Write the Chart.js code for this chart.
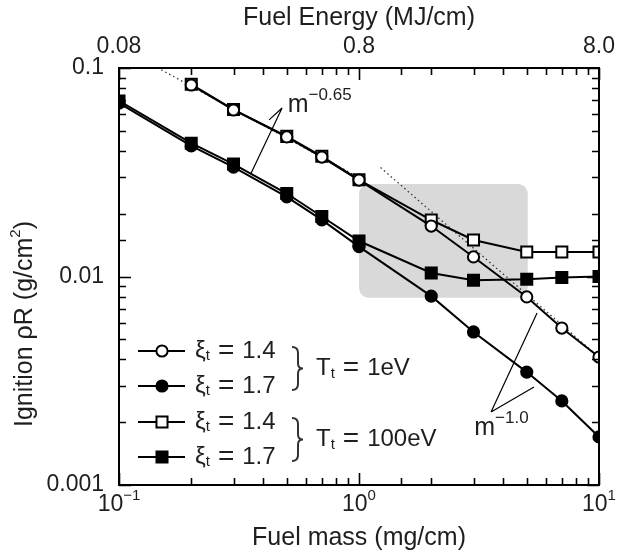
<!DOCTYPE html>
<html>
<head>
<meta charset="utf-8">
<script src="https://cdn.jsdelivr.net/npm/chart.js@4.4.0/dist/chart.umd.min.js"></script>
<style>
  html, body { margin: 0; padding: 0; background: #fff; }
</style>
</head>
<body>
<canvas id="chart" width="617" height="554"></canvas>
<script>
// fuel mass (mg/cm) and ignition rhoR (g/cm^2)
const fuelMass = [0.1, 0.2, 0.3, 0.5, 0.7, 1, 2, 3, 5, 7, 10];
const xi14Te1 = [null, 0.0829, 0.0629, 0.0467, 0.0374, 0.0290, 0.01746, 0.01241, 0.00798, 0.00566, 0.00411];
const xi17Te1 = [0.0679, 0.0423, 0.0335, 0.0241, 0.0187, 0.0139, 0.00805, 0.00542, 0.00348, 0.00253, 0.00170];
const xi14Te100 = [null, 0.0835, 0.0632, 0.0470, 0.0377, 0.0291, 0.01866, 0.01496, 0.01312, 0.0131, 0.0131];
const xi17Te100 = [0.0695, 0.0436, 0.0346, 0.0250, 0.0194, 0.0148, 0.0104, 0.0096, 0.0097, 0.0099, 0.0100];

// dotted power-law guides
const fit065Mass = [0.15, 1.0];
const fit065Value = [0.098, 0.0298];
const fit100Mass = [1.23, 10];
const fit100Value = [0.0333, 0.0041];

// axis ticks
const massDecades = [0.1, 1, 10];
const massExponents = ['\u22121', '0', '1'];
const energyTicks = [0.08, 0.8, 8];
const energyTickLabels = ['0.08', '0.8', '8.0'];
const rhoRDecades = [0.001, 0.01, 0.1];
const rhoRTickLabels = ['0.001', '0.01', '0.1'];

// legend text
const legendXi = ['1.4', '1.7', '1.4', '1.7'];
const legendTe = ['1eV', '100eV'];

// shaded region (data coords)
const boxMass = [1.0, 5.05];
const boxRhoR = [0.0079, 0.0278];

// slope annotations (data coords)
const slope065 = { text: [0.505, 0.0612], exp: '\u22120.65', apex: [0.478, 0.0643], ends: [[0.422, 0.0564], [0.355, 0.0313]] };
const slope100 = { text: [3.02, 0.00174], exp: '\u22121.0', apex: [3.55, 0.00224], ends: [[5.52, 0.00668], [5.36, 0.00295]] };

const FONT = '"Liberation Sans", Arial, sans-serif';
const TXT = '#1e1e1e';

const toPts = (xs, ys) => xs.map((x, i) => ({ x: x, y: ys[i] })).filter(p => p.y != null);
const near = (a, b) => Math.abs(Math.log10(a) - Math.log10(b)) < 1e-6;
const isDecade = v => Math.abs(Math.log10(v) - Math.round(Math.log10(v))) < 1e-6;

function series(label, values, style, fill) {
  return {
    label: label,
    data: toPts(fuelMass, values),
    borderColor: '#000',
    borderWidth: 2,
    pointStyle: style,
    pointRadius: style === 'rect' ? 7.8 : 5.6,
    pointBorderWidth: 2,
    pointBorderColor: '#000',
    pointBackgroundColor: fill,
    tension: 0,
    fill: false
  };
}

function guide(xs, ys) {
  return {
    data: toPts(xs, ys),
    borderColor: '#333',
    borderWidth: 1.3,
    borderDash: [1.5, 3],
    pointRadius: 0,
    fill: false
  };
}

function marker(ctx, ds, x, y) {
  ctx.save();
  ctx.lineWidth = 2;
  ctx.strokeStyle = '#000';
  ctx.fillStyle = ds.pointBackgroundColor;
  ctx.beginPath();
  if (ds.pointStyle === 'rect') {
    const h = ds.pointRadius * Math.SQRT1_2;
    ctx.rect(x - h, y - h, 2 * h, 2 * h);
  } else {
    ctx.arc(x, y, ds.pointRadius, 0, Math.PI * 2);
  }
  ctx.fill();
  ctx.stroke();
  ctx.restore();
}

// text made of pieces (sub/superscripts), returns end x
function richText(ctx, parts, x, y) {
  for (const p of parts) {
    ctx.font = (p.size || 23) + 'px ' + FONT;
    ctx.fillText(p.t, x, y + (p.dy || 0));
    x += ctx.measureText(p.t).width + (p.gap || 0);
  }
  return x;
}
function richWidth(ctx, parts) {
  let w = 0;
  for (const p of parts) {
    ctx.font = (p.size || 23) + 'px ' + FONT;
    w += ctx.measureText(p.t).width + (p.gap || 0);
  }
  return w;
}

function brace(ctx, x, yTop, yBot) {
  const ym = (yTop + yBot) / 2;
  const w = 6;
  ctx.beginPath();
  ctx.moveTo(x, yTop);
  ctx.quadraticCurveTo(x + w, yTop, x + w, yTop + 6);
  ctx.lineTo(x + w, ym - 5);
  ctx.quadraticCurveTo(x + w, ym, x + w + 5, ym);
  ctx.quadraticCurveTo(x + w, ym, x + w, ym + 5);
  ctx.lineTo(x + w, yBot - 6);
  ctx.quadraticCurveTo(x + w, yBot, x, yBot);
  ctx.stroke();
}

const decor = {
  id: 'decor',
  beforeDatasetsDraw(chart) {
    const { ctx, scales: { x, y } } = chart;
    const x0 = x.getPixelForValue(boxMass[0]), x1 = x.getPixelForValue(boxMass[1]);
    const y0 = y.getPixelForValue(boxRhoR[1]), y1 = y.getPixelForValue(boxRhoR[0]);
    ctx.save();
    ctx.fillStyle = '#d9d9d9';
    ctx.beginPath();
    ctx.roundRect(x0, y0, x1 - x0, y1 - y0, 10);
    ctx.fill();
    ctx.restore();
  },
  afterDatasetsDraw(chart) {
    const { ctx, chartArea: a, scales: { x, y } } = chart;
    ctx.save();

    // frame
    ctx.strokeStyle = '#000';
    ctx.lineWidth = 2;
    ctx.strokeRect(a.left, a.top, a.right - a.left, a.bottom - a.top);

    // inward tick marks, mass positions on both top and bottom
    ctx.lineWidth = 1.6;
    ctx.beginPath();
    for (const t of x.ticks) {
      const px = Math.round(x.getPixelForValue(t.value)) + 0.5;
      const len = isDecade(t.value) ? 12 : 7;
      ctx.moveTo(px, a.bottom); ctx.lineTo(px, a.bottom - len);
      ctx.moveTo(px, a.top); ctx.lineTo(px, a.top + len);
    }
    for (const t of y.ticks) {
      const py = Math.round(y.getPixelForValue(t.value)) + 0.5;
      const len = isDecade(t.value) ? 12 : 7;
      ctx.moveTo(a.left, py); ctx.lineTo(a.left + len, py);
      ctx.moveTo(a.right, py); ctx.lineTo(a.right - len, py);
    }
    ctx.stroke();

    ctx.fillStyle = TXT;
    ctx.textBaseline = 'middle';
    ctx.textAlign = 'left';

    // bottom decade labels 10^n
    massDecades.forEach((m, i) => {
      const parts = [{ t: '10', size: 23 }, { t: massExponents[i], size: 15, dy: -9 }];
      const w = richWidth(ctx, parts);
      richText(ctx, parts, x.getPixelForValue(m) - w / 2, a.bottom + 20);
    });

    // y axis title
    ctx.save();
    ctx.translate(25, 324);
    ctx.rotate(-Math.PI / 2);
    const yt = [{ t: 'Ignition \u03c1R (g/cm', size: 25 }, { t: '2', size: 15, dy: -9 }, { t: ')', size: 25 }];
    richText(ctx, yt, -richWidth(ctx, yt) / 2, 0);
    ctx.restore();

    // legend
    const ds = chart.data.datasets;
    const lx = a.left + 19, rowY = [351, 386, 422, 457];
    ctx.strokeStyle = '#000';
    for (let i = 0; i < 4; i++) {
      const ry = rowY[i];
      ctx.lineWidth = 2;
      ctx.beginPath(); ctx.moveTo(lx, ry); ctx.lineTo(lx + 47, ry); ctx.stroke();
      marker(ctx, ds[i], lx + 24, ry);
      ctx.fillStyle = TXT;
      richText(ctx, [{ t: '\u03be', size: 24 }, { t: 't', size: 15, dy: 5, gap: 8 }, { t: '=', size: 28, gap: 8 }, { t: legendXi[i], size: 24 }], lx + 57, ry);
    }
    ctx.strokeStyle = '#333';
    ctx.lineWidth = 2;
    for (let g = 0; g < 2; g++) {
      const y0 = rowY[2 * g] - 4, y1 = rowY[2 * g + 1] + 4;
      brace(ctx, lx + 154, y0, y1);
      richText(ctx, [{ t: 'T', size: 24 }, { t: 't', size: 15, dy: 5, gap: 8 }, { t: '=', size: 28, gap: 8 }, { t: legendTe[g], size: 24 }], lx + 178, (y0 + y1) / 2);
    }

    // slope annotations
    for (const s of [slope065, slope100]) {
      const ax = x.getPixelForValue(s.apex[0]), ay = y.getPixelForValue(s.apex[1]);
      ctx.strokeStyle = '#000';
      ctx.lineWidth = 1.2;
      ctx.beginPath();
      for (const e of s.ends) {
        ctx.moveTo(ax, ay);
        ctx.lineTo(x.getPixelForValue(e[0]), y.getPixelForValue(e[1]));
      }
      ctx.stroke();
      ctx.fillStyle = TXT;
      ctx.textBaseline = 'alphabetic';
      richText(ctx, [{ t: 'm', size: 25 }, { t: s.exp, size: 17, dy: -12 }],
        x.getPixelForValue(s.text[0]), y.getPixelForValue(s.text[1]));
      ctx.textBaseline = 'middle';
    }
    ctx.restore();
  }
};

new Chart(document.getElementById('chart'), {
  type: 'line',
  data: {
    datasets: [
      series('\u03be = 1.4, 1eV', xi14Te1, 'circle', '#fff'),
      series('\u03be = 1.7, 1eV', xi17Te1, 'circle', '#000'),
      series('\u03be = 1.4, 100eV', xi14Te100, 'rect', '#fff'),
      series('\u03be = 1.7, 100eV', xi17Te100, 'rect', '#000'),
      guide(fit065Mass, fit065Value),
      guide(fit100Mass, fit100Value)
    ]
  },
  options: {
    responsive: false,
    animation: false,
    devicePixelRatio: 1,
    layout: { padding: { left: 0, right: 18, top: 0, bottom: 0 } },
    plugins: { legend: { display: false }, tooltip: { enabled: false } },
    scales: {
      x: {
        type: 'logarithmic',
        position: 'bottom',
        min: 0.1,
        max: 10,
        grid: { display: false },
        border: { display: false },
        ticks: { display: false },
        title: {
          display: true,
          text: 'Fuel mass (mg/cm)',
          color: TXT,
          font: { family: FONT, size: 25 },
          padding: { top: 0, bottom: 1 }
        },
        afterFit(s) { s.height = 69; s.paddingLeft = 0; s.paddingRight = 0; }
      },
      x2: {
        type: 'logarithmic',
        position: 'top',
        min: 0.08,
        max: 8,
        grid: { display: false },
        border: { display: false },
        ticks: {
          autoSkip: false,
          maxRotation: 0,
          padding: 0,
          color: TXT,
          font: { family: FONT, size: 23 },
          callback: v => {
            const i = energyTicks.findIndex(e => near(e, v));
            return i < 0 ? '' : energyTickLabels[i];
          }
        },
        title: {
          display: true,
          text: 'Fuel Energy (MJ/cm)',
          color: TXT,
          font: { family: FONT, size: 25 },
          padding: { top: 3, bottom: 0 }
        },
        afterFit(s) { s.height = 68; s.paddingLeft = 0; s.paddingRight = 0; }
      },
      y: {
        type: 'logarithmic',
        position: 'left',
        min: 0.001,
        max: 0.1,
        grid: { display: false },
        border: { display: false },
        ticks: {
          autoSkip: false,
          padding: 7,
          color: TXT,
          font: { family: FONT, size: 23 },
          callback: v => {
            const i = rhoRDecades.findIndex(e => near(e, v));
            return i < 0 ? '' : rhoRTickLabels[i];
          }
        },
        afterFit(s) { s.width = 119; s.paddingTop = 0; s.paddingBottom = 0; }
      }
    }
  },
  plugins: [decor]
});
</script>
</body>
</html>
